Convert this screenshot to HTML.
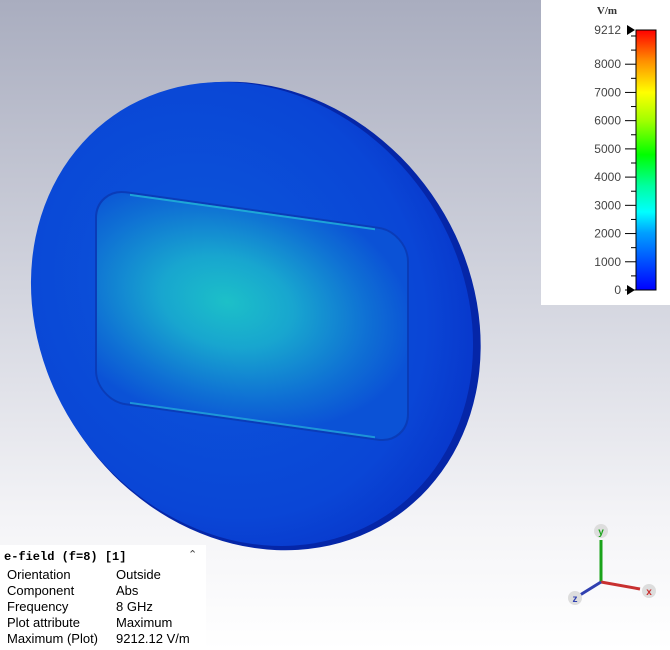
<!DOCTYPE html>
<html><head><meta charset="utf-8"><style>
html,body{margin:0;padding:0;}
body{width:670px;height:650px;overflow:hidden;position:relative;background:linear-gradient(#a9adbf 0%,#d3d5df 45%,#f4f4f7 80%,#ffffff 100%);font-family:"Liberation Sans",sans-serif;}
#legend{position:absolute;left:541px;top:0;width:129px;height:305px;background:#fff;}
#info{position:absolute;left:0;top:545px;width:206px;height:105px;background:#fff;font-size:13px;color:#000;}
#info .t{font-family:"Liberation Mono",monospace;font-weight:bold;font-size:12px;position:absolute;left:4px;top:5px;}
#info .r{position:absolute;left:7px;}
#info .v{position:absolute;left:116px;}
</style></head><body>
<svg width="670" height="650" style="position:absolute;left:0;top:0">
<defs>
<radialGradient id="inner" cx="0.42" cy="0.45" r="0.6">
<stop offset="0" stop-color="#1cc0c8"/><stop offset="0.35" stop-color="#18a6cf"/><stop offset="0.75" stop-color="#0f70d4"/><stop offset="1" stop-color="#0b52d6"/>
</radialGradient>
<radialGradient id="disk" cx="0.45" cy="0.42" r="0.6">
<stop offset="0" stop-color="#0c58da"/><stop offset="0.8" stop-color="#0a46d6"/><stop offset="1" stop-color="#0838cc"/>
</radialGradient>
</defs>
<g>
<ellipse cx="257" cy="316" rx="213" ry="244" transform="rotate(-35 257 316)" fill="#0526a8"/>
<ellipse cx="252" cy="314" rx="210" ry="242" transform="rotate(-35 252 314)" fill="url(#disk)"/>
</g>
<g transform="translate(252 320) skewY(8) translate(-252 -320)">
<rect x="96" y="210" width="312" height="212" rx="30" fill="url(#inner)" stroke="#0a3cb8" stroke-width="2"/>
<path d="M130 212 H375" stroke="#25c0d8" stroke-width="2" stroke-opacity="0.7" fill="none"/>
<path d="M130 420 H375" stroke="#25b0d8" stroke-width="2" stroke-opacity="0.7" fill="none"/>
</g>
<g>
<line x1="601" y1="582" x2="601" y2="540" stroke="#1aa31a" stroke-width="3"/>
<line x1="601" y1="582" x2="640" y2="589" stroke="#c83030" stroke-width="3"/>
<line x1="601" y1="582" x2="580" y2="595" stroke="#3040b0" stroke-width="3"/>
<circle cx="601" cy="531" r="7" fill="#ddd"/><text x="601" y="535" font-size="10" font-weight="bold" fill="#1aa31a" text-anchor="middle">y</text>
<circle cx="649" cy="591" r="7" fill="#ddd"/><text x="649" y="595" font-size="10" font-weight="bold" fill="#c83030" text-anchor="middle">x</text>
<circle cx="575" cy="598" r="7" fill="#ddd"/><text x="575" y="602" font-size="10" font-weight="bold" fill="#3040b0" text-anchor="middle">z</text>
</g>
</svg>
<div id="legend">
<svg id="lsvg" width="129" height="305"></svg>
</div>
<div id="info">
<div class="t">e-field (f=8) [1]</div>
<div style="position:absolute;left:188px;top:3px;font-size:11px;color:#444">&#8963;</div>
<div class="r" style="top:22px">Orientation</div><div class="v" style="top:22px">Outside</div>
<div class="r" style="top:38px">Component</div><div class="v" style="top:38px">Abs</div>
<div class="r" style="top:54px">Frequency</div><div class="v" style="top:54px">8 GHz</div>
<div class="r" style="top:70px">Plot attribute</div><div class="v" style="top:70px">Maximum</div>
<div class="r" style="top:86px">Maximum (Plot)</div><div class="v" style="top:86px">9212.12 V/m</div>
</div>
<script>
const tickValues=[0,1000,2000,3000,4000,5000,6000,7000,8000];
const minorValues=[500,1500,2500,3500,4500,5500,6500,7500,8500,9000];
const maxValue=9212;
const unitLabel="V/m";
const NS="http://www.w3.org/2000/svg";
const s=document.getElementById('lsvg');
const top0=30,bot0=290,bx=95,bw=20;
const y=v=>bot0-(v/maxValue)*(bot0-top0);
function mk(t,a){const e=document.createElementNS(NS,t);for(const k in a)e.setAttribute(k,a[k]);s.appendChild(e);return e;}
const g=mk('linearGradient',{id:'cb',x1:0,y1:1,x2:0,y2:0});
[['0','#0000ff'],['0.22','#00a0ff'],['0.3','#00ffff'],['0.4','#00ffa0'],['0.52','#00ff00'],['0.65','#a0ff00'],['0.76','#ffff00'],['0.88','#ff9000'],['1','#ff0000']].forEach(p=>{const st=document.createElementNS(NS,'stop');st.setAttribute('offset',p[0]);st.setAttribute('stop-color',p[1]);g.appendChild(st);});
const bar=mk('rect',{x:bx,y:top0,width:bw,height:bot0-top0,fill:'url(#cb)',stroke:'#000','stroke-width':1});


const u=mk('text',{x:66,y:14,'font-size':11,'font-weight':'bold','font-family':'Liberation Serif, serif','text-anchor':'middle',fill:'#333'});u.textContent=unitLabel;


tickValues.forEach(v=>{
 const yy=y(v);
 const l=mk('line',{x1:bx-11,x2:bx,y1:yy,y2:yy,stroke:'#000'});
 
 
 if(v===0)return;
 const t=mk('text',{x:80,y:yy+4,'font-size':12,'text-anchor':'end',fill:'#444'});t.textContent=v;
 
 
});
minorValues.forEach(v=>{const yy=y(v);const l=mk('line',{x1:bx-5,x2:bx,y1:yy,y2:yy,stroke:'#000'});
 
 });
[[maxValue,String(maxValue)],[0,'0']].forEach(p=>{const yy=y(p[0]);
 const t=mk('text',{x:80,y:yy+4,'font-size':12,'text-anchor':'end',fill:'#444'});t.textContent=p[1];
 
 
 const a=mk('polygon',{points:`${bx-9},${yy-5} ${bx-1},${yy} ${bx-9},${yy+5}`,fill:'#000'});
 
 });
</script>
</body></html>
